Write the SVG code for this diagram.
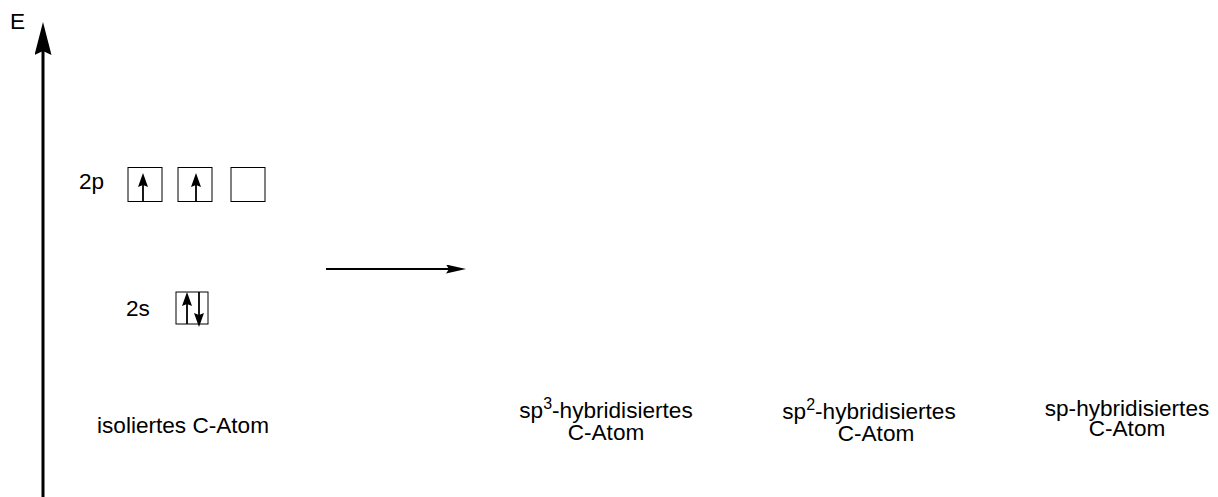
<svg xmlns="http://www.w3.org/2000/svg" width="1218" height="497" viewBox="0 0 1218 497">
<style>
text{font-family:"Liberation Sans",Arial,sans-serif;font-size:22.6px;fill:#000}
.box{fill:#fff;stroke:#000;stroke-width:1}
.e{stroke:#000;stroke-width:1.8;fill:none}
</style>
<defs>
<marker id="ah" viewBox="0 0 14 10" refX="2" refY="5" markerWidth="14" markerHeight="10" markerUnits="userSpaceOnUse" orient="auto"><path d="M0,0 L14,5 L0,10 L2,5 Z" fill="#000"/></marker>
<marker id="axh" viewBox="0 0 33 17" refX="4" refY="8.5" markerWidth="33" markerHeight="17" markerUnits="userSpaceOnUse" orient="auto"><path d="M0,0 L33,8.5 L0,17 L4,8.5 Z" fill="#000"/></marker>
<marker id="hh" viewBox="0 0 20 9" refX="3" refY="4.5" markerWidth="20" markerHeight="9" markerUnits="userSpaceOnUse" orient="auto"><path d="M0,0 L20,4.5 L0,9 L3,4.5 Z" fill="#000"/></marker>
</defs>
<g id="axis">
<line x1="43" y1="497" x2="43" y2="51" stroke="#000" stroke-width="3" marker-end="url(#axh)"/>
<text x="10" y="29">E</text>
</g>
<g id="orb2p">
<text x="79" y="189">2p</text>
<rect class="box" x="128" y="167.5" width="34" height="34"/>
<rect class="box" x="178" y="167.5" width="34" height="34"/>
<rect class="box" x="231" y="167.5" width="34" height="34"/>
<line class="e" x1="143" y1="201.5" x2="143" y2="185" marker-end="url(#ah)"/>
<line class="e" x1="196" y1="201.5" x2="196" y2="185" marker-end="url(#ah)"/>
</g>
<g id="orb2s">
<text x="126" y="316">2s</text>
<rect class="box" x="176" y="292" width="32" height="32"/>
<line class="e" x1="187" y1="324" x2="187" y2="304" marker-end="url(#ah)"/>
<line class="e" x1="199" y1="292" x2="199" y2="315" marker-end="url(#ah)"/>
</g>
<g id="connectors">
<line x1="326" y1="269" x2="449" y2="269" stroke="#000" stroke-width="2" marker-end="url(#hh)"/>
</g>
<g id="label-iso">
<text x="97" y="433">isoliertes C-Atom</text>
</g>
<g id="label-sp3" text-anchor="middle">
<text x="606" y="418">sp<tspan font-size="16" dy="-9">3</tspan><tspan dy="9">-hybridisiertes</tspan></text>
<text x="606" y="440">C-Atom</text>
</g>
<g id="label-sp2" text-anchor="middle">
<text x="869" y="419">sp<tspan font-size="16" dy="-9">2</tspan><tspan dy="9">-hybridisiertes</tspan></text>
<text x="876" y="441">C-Atom</text>
</g>
<g id="label-sp" text-anchor="middle">
<text x="1127" y="416">sp-hybridisiertes</text>
<text x="1127" y="436">C-Atom</text>
</g>
</svg>
